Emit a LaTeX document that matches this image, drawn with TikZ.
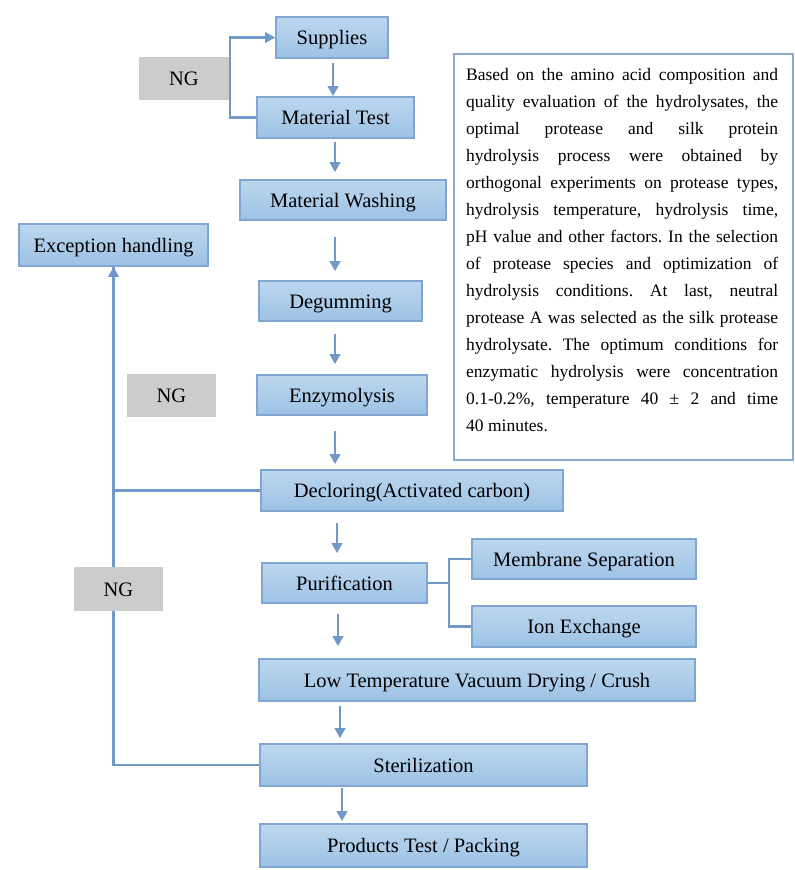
\documentclass[tikz,border=0pt]{standalone}
\usepackage{fontspec}
\setmainfont{Liberation Serif}
\usetikzlibrary{arrows.meta,calc}
\definecolor{boxtop}{HTML}{BDD7EE}
\definecolor{boxbot}{HTML}{9DC2E5}
\definecolor{boxline}{HTML}{7FA7D2}
\definecolor{conn}{HTML}{7099C8}
\definecolor{nggray}{HTML}{CCCCCC}
\definecolor{txtline}{HTML}{8AAAD0}
\begin{document}
\begin{tikzpicture}[x=1pt,y=-1pt,
  stepbox/.style={draw=boxline,line width=1.8pt,top color=boxtop,bottom color=boxbot,
    inner sep=0pt,text height=14pt,text depth=0pt,font=\fontsize{20.5}{24}\selectfont},
  ngbox/.style={fill=nggray,inner sep=0pt,text height=14pt,text depth=0pt,font=\fontsize{20.5}{24}\selectfont},
  conline/.style={draw=conn,line width=2.4pt},
  arr/.style={conline,-{Triangle[length=10pt,width=10.5pt]}}]
\useasboundingbox (0,0) rectangle (795,870);
\fill[white] (0,0) rectangle (795,870);
% nodes
\node[stepbox,minimum width=112pt,minimum height=41pt] (sup) at (332,37.5) {Supplies};
\node[stepbox,minimum width=157pt,minimum height=41pt] (mt) at (335.5,117.5) {Material Test};
\node[stepbox,minimum width=206pt,minimum height=40pt] (mw) at (343,200) {Material Washing};
\node[stepbox,minimum width=189pt,minimum height=42pt] (eh) at (113.5,245) {Exception handling};
\node[stepbox,minimum width=163pt,minimum height=40pt] (deg) at (340.5,301) {Degumming};
\node[stepbox,minimum width=170pt,minimum height=40pt] (enz) at (342,395) {Enzymolysis};
\node[stepbox,minimum width=302pt,minimum height=41pt] (dec) at (412,490.5) {Decloring(Activated carbon)};
\node[stepbox,minimum width=165pt,minimum height=40pt] (pur) at (344.5,583) {Purification};
\node[stepbox,minimum width=224pt,minimum height=40pt] (ms) at (584,559) {Membrane Separation};
\node[stepbox,minimum width=224pt,minimum height=41pt] (ie) at (584,626.5) {Ion Exchange};
\node[stepbox,minimum width=436pt,minimum height=42pt] (lt) at (477,680) {Low Temperature Vacuum Drying / Crush};
\node[stepbox,minimum width=327pt,minimum height=42pt] (st) at (423.5,765) {Sterilization};
\node[stepbox,minimum width=327pt,minimum height=43pt] (pp) at (423.5,845.5) {Products Test / Packing};
% text box
\node[draw=txtline,line width=1.8pt,fill=white,minimum width=339pt,minimum height=406pt,anchor=north west,inner sep=0pt] (tb) at (453,53) {};
\node[anchor=north west,inner sep=0pt,text width=312pt,align=justify,
  font=\fontsize{17.5}{27}\selectfont] (tt) at (466,68) {\tolerance=10000\frenchspacing
Based on the amino acid composition and\linebreak
quality evaluation of the hydrolysates, the\linebreak
optimal protease and silk protein\linebreak
hydrolysis process were obtained by\linebreak
orthogonal experiments on protease types,\linebreak
hydrolysis temperature, hydrolysis time,\linebreak
pH value and other factors. In the selection\linebreak
of protease species and optimization of\linebreak
hydrolysis conditions. At last, neutral\linebreak
protease A was selected as the silk protease\linebreak
hydrolysate. The optimum conditions for\linebreak
enzymatic hydrolysis were concentration\linebreak
0.1-0.2\%, temperature 40 ± 2 and time\linebreak
40 minutes.};
% column coordinates
\coordinate (c1) at (333,0);
\coordinate (c2) at (335,0);
\coordinate (c6) at (337,0);
\coordinate (c7) at (338,0);
\coordinate (c8) at (340,0);
\coordinate (c9) at (342,0);
\coordinate (xf) at (230,0);
\coordinate (xb) at (449,0);
% main arrows
\draw[arr,shorten <=4pt] (sup.south -| c1) -- (mt.north -| c1);
\draw[arr,shorten <=3pt,shorten >=7pt] (mt.south -| c2) -- (mw.north -| c2);
\draw[arr,shorten <=16pt,shorten >=9pt] (mw.south -| c2) -- (deg.north -| c2);
\draw[arr,shorten <=12pt,shorten >=10pt] (deg.south -| c2) -- (enz.north -| c2);
\draw[arr,shorten <=15pt,shorten >=5pt] (enz.south -| c2) -- (dec.north -| c2);
\draw[arr,shorten <=11pt,shorten >=9pt] (dec.south -| c6) -- (pur.north -| c6);
\draw[arr,shorten <=10pt,shorten >=12pt] (pur.south -| c7) -- (lt.north -| c7);
\draw[arr,shorten <=4pt,shorten >=5pt] (lt.south -| c8) -- (st.north -| c8);
\draw[arr,shorten <=1pt,shorten >=2pt] (st.south -| c9) -- (pp.north -| c9);
% feedback loops
\draw[arr] (mt.west) -- (mt.west -| xf) |- (sup.west);
\draw[arr] (dec.west) -| (eh.south);
\draw[conline] (st.west) -| (eh.south);
% branch
\draw[conline] (pur.east) -- (pur.east -| xb);
\draw[conline] (ms.west) -- (ms.west -| xb) |- (ie.west);
% NG labels (on top of the loop lines)
\node[ngbox,minimum width=90pt,minimum height=43pt] (ng1) at (184,78.5) {NG};
\node[ngbox,minimum width=89pt,minimum height=43pt] (ng2) at (171.5,395.5) {NG};
\node[ngbox,minimum width=89pt,minimum height=44pt] (ng3) at (118.5,589) {NG};
\end{tikzpicture}
\end{document}
